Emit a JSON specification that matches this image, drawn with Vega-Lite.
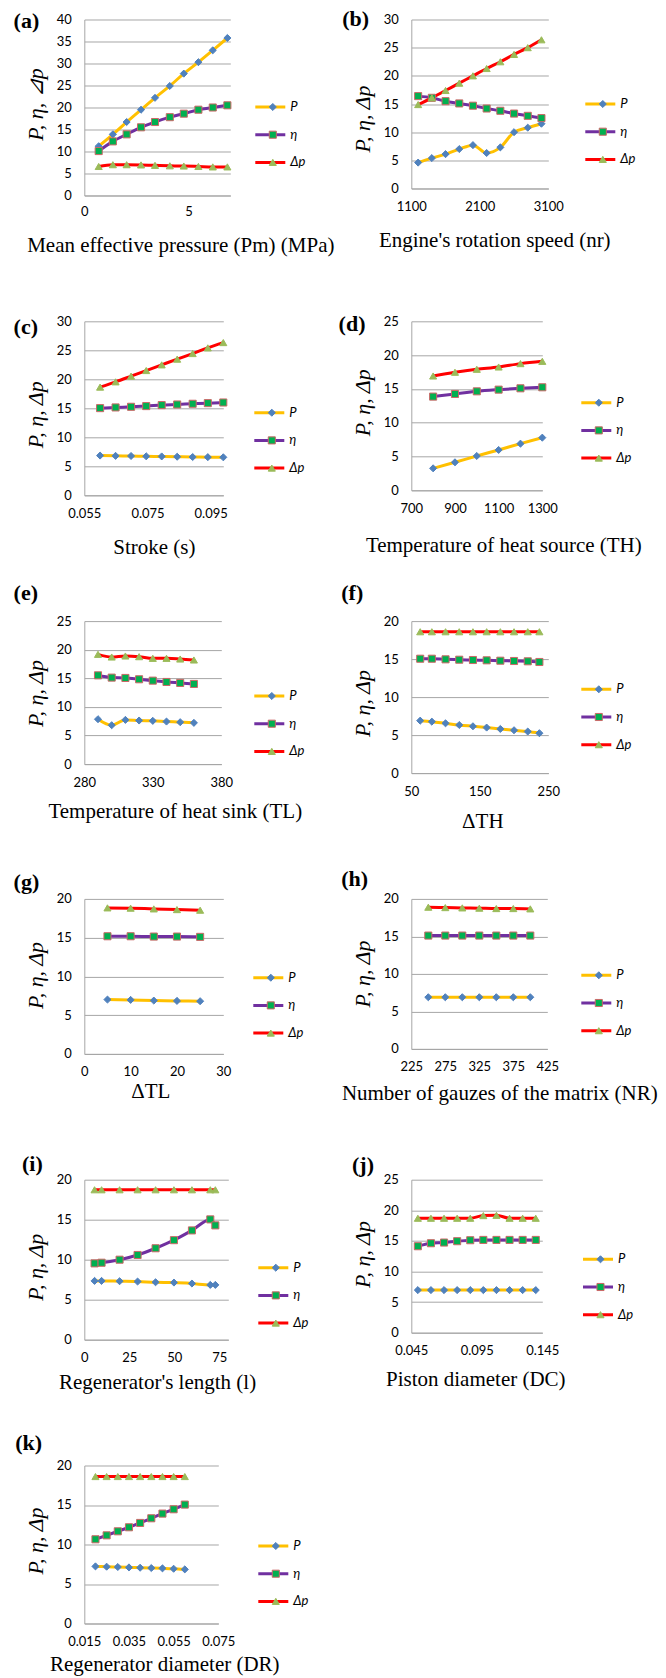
{
"$schema": "https://vega.github.io/schema/vega-lite/v6.json",
"background": "white",
"padding": {"left": 13.3, "top": 7.5, "right": 0, "bottom": 0},
"columns": 2,
"align": "each",
"bounds": "flush",
"spacing": {"row": 125.8, "column": 181},
"resolve": {"scale": {"color": "independent", "fill": "independent", "stroke": "independent", "shape": "independent", "x": "independent", "y": "independent"}, "legend": {"color": "independent", "fill": "independent", "stroke": "independent", "shape": "independent"}},
"config": {
  "view": {"stroke": null},
  "font": "Lato",
  "axis": {"labelFont": "Lato", "labelFontSize": 13, "labelColor": "#000000", "ticks": false, "tickSize": 0, "domainColor": "#A6A6A6", "domainWidth": 1, "gridColor": "#A6A6A6", "gridWidth": 1, "titleFont": "Liberation Serif", "titleFontWeight": "normal", "titleColor": "#000000", "labelFlush": false, "labelOverlap": false},
  "axisX": {"grid": false, "titleFontSize": 21, "labelPadding": 12},
  "axisY": {"grid": true, "titleFontSize": 22, "titleFontStyle": "italic", "labelPadding": 13, "titlePadding": 9},
  "legend": {"labelFont": "Lato", "labelFontSize": 13, "labelFontStyle": "italic", "labelColor": "#000000", "title": null, "padding": 0, "clipHeight": 14, "rowPadding": 13.7, "symbolOpacity": 1},
  "title": {"font": "Liberation Serif", "fontSize": 22, "fontWeight": "bold", "anchor": "start", "frame": "group", "color": "#000000"},
  "line": {"strokeWidth": 3, "interpolate": "monotone"},
  "point": {"size": 50, "filled": true, "opacity": 1, "strokeWidth": 1}
},
"concat": [
{
 "width": 146, "height": 176,
 "title": {"text": "(a)", "dx": -70.7, "offset": -19},
 "data": {"values": [
  {"x":0.69,"v":11.2,"s":"P"},{"x":1.37,"v":13.9,"s":"P"},{"x":2.03,"v":16.7,"s":"P"},{"x":2.72,"v":19.5,"s":"P"},{"x":3.39,"v":22.2,"s":"P"},{"x":4.1,"v":24.9,"s":"P"},{"x":4.77,"v":27.7,"s":"P"},{"x":5.47,"v":30.3,"s":"P"},{"x":6.16,"v":33.0,"s":"P"},{"x":6.86,"v":35.8,"s":"P"},
  {"x":0.69,"v":10.1,"s":"η"},{"x":1.37,"v":12.3,"s":"η"},{"x":2.03,"v":13.9,"s":"η"},{"x":2.72,"v":15.5,"s":"η"},{"x":3.39,"v":16.7,"s":"η"},{"x":4.1,"v":17.8,"s":"η"},{"x":4.77,"v":18.6,"s":"η"},{"x":5.47,"v":19.5,"s":"η"},{"x":6.16,"v":20.0,"s":"η"},{"x":6.86,"v":20.5,"s":"η"},
  {"x":0.69,"v":6.6,"s":"Δp"},{"x":1.37,"v":7.0,"s":"Δp"},{"x":2.03,"v":7.0,"s":"Δp"},{"x":2.72,"v":6.95,"s":"Δp"},{"x":3.39,"v":6.85,"s":"Δp"},{"x":4.1,"v":6.75,"s":"Δp"},{"x":4.77,"v":6.7,"s":"Δp"},{"x":5.47,"v":6.6,"s":"Δp"},{"x":6.16,"v":6.5,"s":"Δp"},{"x":6.86,"v":6.5,"s":"Δp"}
 ]},
 "encoding": {
  "x": {"field": "x", "type": "quantitative", "scale": {"domain": [0, 7], "nice": false, "zero": false}, "axis": {"values": [0, 5], "format": "d", "title": "Mean effective pressure (Pm) (MPa)", "titleX": 96, "titlePadding": 15.5, "labelPadding": 10}},
  "y": {"field": "v", "type": "quantitative", "scale": {"domain": [0, 40], "nice": false}, "axis": {"values": [0,5,10,15,20,25,30,35,40], "title": "P, η, ⊿p", "titleY": 84.5}}
 },
 "layer": [
  {"mark": "line", "encoding": {"color": {"field": "s", "type": "nominal", "sort": ["P","η","Δp"], "scale": {"range": ["#FFC000","#7030A0","#FF0000"]}, "legend": {"orient": "none", "legendX": 169.5, "legendY": 80.5, "symbolType": "stroke", "symbolSize": 900, "symbolStrokeWidth": 3, "labelExpr": "''"}}}},
  {"mark": "point", "encoding": {
    "shape": {"field": "s", "type": "nominal", "scale": {"domain": ["P","η","Δp"], "range": ["diamond","square","triangle-up"]}, "legend": {"orient": "none", "legendX": 182, "legendY": 80.5, "symbolSize": 50, "symbolStrokeWidth": 1, "labelOffset": 11}},
    "fill": {"field": "s", "type": "nominal", "scale": {"domain": ["P","η","Δp"], "range": ["#4F81BD","#00B050","#9BBB59"]}, "legend": {"orient": "none", "legendX": 182, "legendY": 80.5, "symbolSize": 50, "symbolStrokeWidth": 1, "labelOffset": 11}},
    "stroke": {"field": "s", "type": "nominal", "scale": {"domain": ["P","η","Δp"], "range": ["#4F81BD","#CC6666","#9BBB59"]}, "legend": {"orient": "none", "legendX": 182, "legendY": 80.5, "symbolSize": 50, "symbolStrokeWidth": 1, "labelOffset": 11}}
  }}
 ]
},
{
 "width": 137, "height": 169,
 "title": {"text": "(b)", "dx": -69, "offset": -17.5},
 "data": {"values": [
  {"x":1200,"v":4.6,"s":"P"},{"x":1400,"v":5.4,"s":"P"},{"x":1600,"v":6.1,"s":"P"},{"x":1800,"v":7.0,"s":"P"},{"x":2000,"v":7.7,"s":"P"},{"x":2200,"v":6.3,"s":"P"},{"x":2400,"v":7.3,"s":"P"},{"x":2600,"v":10.0,"s":"P"},{"x":2800,"v":10.8,"s":"P"},{"x":3000,"v":11.5,"s":"P"},
  {"x":1200,"v":16.4,"s":"η"},{"x":1400,"v":16.1,"s":"η"},{"x":1600,"v":15.5,"s":"η"},{"x":1800,"v":15.1,"s":"η"},{"x":2000,"v":14.7,"s":"η"},{"x":2200,"v":14.2,"s":"η"},{"x":2400,"v":13.8,"s":"η"},{"x":2600,"v":13.3,"s":"η"},{"x":2800,"v":12.9,"s":"η"},{"x":3000,"v":12.5,"s":"η"},
  {"x":1200,"v":14.9,"s":"Δp"},{"x":1400,"v":16.1,"s":"Δp"},{"x":1600,"v":17.4,"s":"Δp"},{"x":1800,"v":18.7,"s":"Δp"},{"x":2000,"v":20.0,"s":"Δp"},{"x":2200,"v":21.3,"s":"Δp"},{"x":2400,"v":22.5,"s":"Δp"},{"x":2600,"v":23.8,"s":"Δp"},{"x":2800,"v":25.0,"s":"Δp"},{"x":3000,"v":26.4,"s":"Δp"}
 ]},
 "encoding": {
  "x": {"field": "x", "type": "quantitative", "scale": {"domain": [1100, 3100], "nice": false, "zero": false}, "axis": {"values": [1100, 2100, 3100], "format": "d", "title": "Engine's rotation speed (nr)", "titleX": 83, "titlePadding": 15.5}},
  "y": {"field": "v", "type": "quantitative", "scale": {"domain": [0, 30], "nice": false}, "axis": {"values": [0,5,10,15,20,25,30], "title": "P, η, Δp", "titleY": 99}}
 },
 "layer": [
  {"mark": "line", "encoding": {"color": {"field": "s", "type": "nominal", "sort": ["P","η","Δp"], "scale": {"range": ["#FFC000","#7030A0","#FF0000"]}, "legend": {"orient": "none", "legendX": 172.5, "legendY": 77.5, "symbolType": "stroke", "symbolSize": 900, "symbolStrokeWidth": 3, "labelExpr": "''"}}}},
  {"mark": "point", "encoding": {
    "shape": {"field": "s", "type": "nominal", "scale": {"domain": ["P","η","Δp"], "range": ["diamond","square","triangle-up"]}, "legend": {"orient": "none", "legendX": 185, "legendY": 77.5, "symbolSize": 50, "symbolStrokeWidth": 1, "labelOffset": 11}},
    "fill": {"field": "s", "type": "nominal", "scale": {"domain": ["P","η","Δp"], "range": ["#4F81BD","#00B050","#9BBB59"]}, "legend": {"orient": "none", "legendX": 185, "legendY": 77.5, "symbolSize": 50, "symbolStrokeWidth": 1, "labelOffset": 11}},
    "stroke": {"field": "s", "type": "nominal", "scale": {"domain": ["P","η","Δp"], "range": ["#4F81BD","#CC6666","#9BBB59"]}, "legend": {"orient": "none", "legendX": 185, "legendY": 77.5, "symbolSize": 50, "symbolStrokeWidth": 1, "labelOffset": 11}}
  }}
 ]
},
{
 "width": 139, "height": 174,
 "title": {"text": "(c)", "dx": -70.7, "offset": -23.2},
 "data": {"values": [
  {"x":0.06,"v":6.85,"s":"P"},{"x":0.0649,"v":6.8,"s":"P"},{"x":0.0698,"v":6.78,"s":"P"},{"x":0.0746,"v":6.72,"s":"P"},{"x":0.0795,"v":6.7,"s":"P"},{"x":0.0844,"v":6.65,"s":"P"},{"x":0.0893,"v":6.6,"s":"P"},{"x":0.0941,"v":6.58,"s":"P"},{"x":0.099,"v":6.55,"s":"P"},
  {"x":0.06,"v":15.03,"s":"η"},{"x":0.0649,"v":15.15,"s":"η"},{"x":0.0698,"v":15.26,"s":"η"},{"x":0.0746,"v":15.38,"s":"η"},{"x":0.0795,"v":15.55,"s":"η"},{"x":0.0844,"v":15.66,"s":"η"},{"x":0.0893,"v":15.78,"s":"η"},{"x":0.0941,"v":15.89,"s":"η"},{"x":0.099,"v":16.0,"s":"η"},
  {"x":0.06,"v":18.65,"s":"Δp"},{"x":0.0649,"v":19.56,"s":"Δp"},{"x":0.0698,"v":20.54,"s":"Δp"},{"x":0.0746,"v":21.51,"s":"Δp"},{"x":0.0795,"v":22.49,"s":"Δp"},{"x":0.0844,"v":23.47,"s":"Δp"},{"x":0.0893,"v":24.44,"s":"Δp"},{"x":0.0941,"v":25.42,"s":"Δp"},{"x":0.099,"v":26.33,"s":"Δp"}
 ]},
 "encoding": {
  "x": {"field": "x", "type": "quantitative", "scale": {"domain": [0.055, 0.099], "nice": false, "zero": false}, "axis": {"values": [0.055, 0.075, 0.095], "format": ".3f", "title": "Stroke (s)", "titleX": 69.5, "titlePadding": 16.5}},
  "y": {"field": "v", "type": "quantitative", "scale": {"domain": [0, 30], "nice": false}, "axis": {"values": [0,5,10,15,20,25,30], "title": "P, η, Δp", "titleY": 93}}
 },
 "layer": [
  {"mark": "line", "encoding": {"color": {"field": "s", "type": "nominal", "sort": ["P","η","Δp"], "scale": {"range": ["#FFC000","#7030A0","#FF0000"]}, "legend": {"orient": "none", "legendX": 168.5, "legendY": 84.4, "symbolType": "stroke", "symbolSize": 900, "symbolStrokeWidth": 3, "labelExpr": "''"}}}},
  {"mark": "point", "encoding": {
    "shape": {"field": "s", "type": "nominal", "scale": {"domain": ["P","η","Δp"], "range": ["diamond","square","triangle-up"]}, "legend": {"orient": "none", "legendX": 181, "legendY": 84.4, "symbolSize": 50, "symbolStrokeWidth": 1, "labelOffset": 11}},
    "fill": {"field": "s", "type": "nominal", "scale": {"domain": ["P","η","Δp"], "range": ["#4F81BD","#00B050","#9BBB59"]}, "legend": {"orient": "none", "legendX": 181, "legendY": 84.4, "symbolSize": 50, "symbolStrokeWidth": 1, "labelOffset": 11}},
    "stroke": {"field": "s", "type": "nominal", "scale": {"domain": ["P","η","Δp"], "range": ["#4F81BD","#CC6666","#9BBB59"]}, "legend": {"orient": "none", "legendX": 181, "legendY": 84.4, "symbolSize": 50, "symbolStrokeWidth": 1, "labelOffset": 11}}
  }}
 ]
},
{
 "width": 131, "height": 169,
 "title": {"text": "(d)", "dx": -72.7, "offset": -20.2},
 "data": {"values": [
  {"x":800,"v":3.25,"s":"P"},{"x":900,"v":4.14,"s":"P"},{"x":1000,"v":5.08,"s":"P"},{"x":1100,"v":5.97,"s":"P"},{"x":1200,"v":6.9,"s":"P"},{"x":1300,"v":7.79,"s":"P"},
  {"x":800,"v":13.86,"s":"η"},{"x":900,"v":14.25,"s":"η"},{"x":1000,"v":14.64,"s":"η"},{"x":1100,"v":14.89,"s":"η"},{"x":1200,"v":15.09,"s":"η"},{"x":1300,"v":15.24,"s":"η"},
  {"x":800,"v":16.91,"s":"Δp"},{"x":900,"v":17.46,"s":"Δp"},{"x":1000,"v":17.9,"s":"Δp"},{"x":1100,"v":18.24,"s":"Δp"},{"x":1200,"v":18.74,"s":"Δp"},{"x":1300,"v":19.08,"s":"Δp"}
 ]},
 "encoding": {
  "x": {"field": "x", "type": "quantitative", "scale": {"domain": [700, 1300], "nice": false, "zero": false}, "axis": {"values": [700, 900, 1100, 1300], "format": "d", "title": "Temperature of heat source (TH)", "titleX": 92, "titlePadding": 19.5}},
  "y": {"field": "v", "type": "quantitative", "scale": {"domain": [0, 25], "nice": false}, "axis": {"values": [0,5,10,15,20,25], "title": "P, η, Δp", "titleY": 81}}
 },
 "layer": [
  {"mark": "line", "encoding": {"color": {"field": "s", "type": "nominal", "sort": ["P","η","Δp"], "scale": {"range": ["#FFC000","#7030A0","#FF0000"]}, "legend": {"orient": "none", "legendX": 168.5, "legendY": 74.4, "symbolType": "stroke", "symbolSize": 900, "symbolStrokeWidth": 3, "labelExpr": "''"}}}},
  {"mark": "point", "encoding": {
    "shape": {"field": "s", "type": "nominal", "scale": {"domain": ["P","η","Δp"], "range": ["diamond","square","triangle-up"]}, "legend": {"orient": "none", "legendX": 181, "legendY": 74.4, "symbolSize": 50, "symbolStrokeWidth": 1, "labelOffset": 11}},
    "fill": {"field": "s", "type": "nominal", "scale": {"domain": ["P","η","Δp"], "range": ["#4F81BD","#00B050","#9BBB59"]}, "legend": {"orient": "none", "legendX": 181, "legendY": 74.4, "symbolSize": 50, "symbolStrokeWidth": 1, "labelOffset": 11}},
    "stroke": {"field": "s", "type": "nominal", "scale": {"domain": ["P","η","Δp"], "range": ["#4F81BD","#CC6666","#9BBB59"]}, "legend": {"orient": "none", "legendX": 181, "legendY": 74.4, "symbolSize": 50, "symbolStrokeWidth": 1, "labelOffset": 11}}
  }}
 ]
},
{
 "width": 137, "height": 143,
 "title": {"text": "(e)", "dx": -70.7, "offset": 10.6},
 "data": {"values": [
  {"x":290,"v":7.85,"s":"P"},{"x":300,"v":6.8,"s":"P"},{"x":310,"v":7.73,"s":"P"},{"x":320,"v":7.62,"s":"P"},{"x":330,"v":7.56,"s":"P"},{"x":340,"v":7.44,"s":"P"},{"x":350,"v":7.33,"s":"P"},{"x":360,"v":7.21,"s":"P"},
  {"x":290,"v":15.52,"s":"η"},{"x":300,"v":15.12,"s":"η"},{"x":310,"v":15.06,"s":"η"},{"x":320,"v":14.83,"s":"η"},{"x":330,"v":14.59,"s":"η"},{"x":340,"v":14.36,"s":"η"},{"x":350,"v":14.19,"s":"η"},{"x":360,"v":14.01,"s":"η"},
  {"x":290,"v":19.19,"s":"Δp"},{"x":300,"v":18.72,"s":"Δp"},{"x":310,"v":18.9,"s":"Δp"},{"x":320,"v":18.78,"s":"Δp"},{"x":330,"v":18.49,"s":"Δp"},{"x":340,"v":18.49,"s":"Δp"},{"x":350,"v":18.37,"s":"Δp"},{"x":360,"v":18.2,"s":"Δp"}
 ]},
 "encoding": {
  "x": {"field": "x", "type": "quantitative", "scale": {"domain": [280, 380], "nice": false, "zero": false}, "axis": {"values": [280, 330, 380], "format": "d", "title": "Temperature of heat sink (TL)", "titleX": 90.5, "titlePadding": 11.5}},
  "y": {"field": "v", "type": "quantitative", "scale": {"domain": [0, 25], "nice": false}, "axis": {"values": [0,5,10,15,20,25], "title": "P, η, Δp", "titleY": 72}}
 },
 "layer": [
  {"mark": "line", "encoding": {"color": {"field": "s", "type": "nominal", "sort": ["P","η","Δp"], "scale": {"range": ["#FFC000","#7030A0","#FF0000"]}, "legend": {"orient": "none", "legendX": 168.5, "legendY": 67.9, "symbolType": "stroke", "symbolSize": 900, "symbolStrokeWidth": 3, "labelExpr": "''"}}}},
  {"mark": "point", "encoding": {
    "shape": {"field": "s", "type": "nominal", "scale": {"domain": ["P","η","Δp"], "range": ["diamond","square","triangle-up"]}, "legend": {"orient": "none", "legendX": 181, "legendY": 67.9, "symbolSize": 50, "symbolStrokeWidth": 1, "labelOffset": 11}},
    "fill": {"field": "s", "type": "nominal", "scale": {"domain": ["P","η","Δp"], "range": ["#4F81BD","#00B050","#9BBB59"]}, "legend": {"orient": "none", "legendX": 181, "legendY": 67.9, "symbolSize": 50, "symbolStrokeWidth": 1, "labelOffset": 11}},
    "stroke": {"field": "s", "type": "nominal", "scale": {"domain": ["P","η","Δp"], "range": ["#4F81BD","#CC6666","#9BBB59"]}, "legend": {"orient": "none", "legendX": 181, "legendY": 67.9, "symbolSize": 50, "symbolStrokeWidth": 1, "labelOffset": 11}}
  }}
 ]
},
{
 "width": 137, "height": 152,
 "title": {"text": "(f)", "dx": -70, "offset": 10.6},
 "data": {"values": [
  {"x":63,"v":6.9,"s":"P"},{"x":80,"v":6.77,"s":"P"},{"x":100,"v":6.55,"s":"P"},{"x":120,"v":6.33,"s":"P"},{"x":140,"v":6.16,"s":"P"},{"x":160,"v":5.99,"s":"P"},{"x":180,"v":5.81,"s":"P"},{"x":200,"v":5.64,"s":"P"},{"x":220,"v":5.47,"s":"P"},{"x":237,"v":5.25,"s":"P"},
  {"x":63,"v":15.05,"s":"η"},{"x":80,"v":15.05,"s":"η"},{"x":100,"v":14.97,"s":"η"},{"x":120,"v":14.92,"s":"η"},{"x":140,"v":14.88,"s":"η"},{"x":160,"v":14.84,"s":"η"},{"x":180,"v":14.79,"s":"η"},{"x":200,"v":14.75,"s":"η"},{"x":220,"v":14.71,"s":"η"},{"x":237,"v":14.62,"s":"η"},
  {"x":63,"v":18.6,"s":"Δp"},{"x":80,"v":18.6,"s":"Δp"},{"x":100,"v":18.6,"s":"Δp"},{"x":120,"v":18.6,"s":"Δp"},{"x":140,"v":18.6,"s":"Δp"},{"x":160,"v":18.6,"s":"Δp"},{"x":180,"v":18.6,"s":"Δp"},{"x":200,"v":18.6,"s":"Δp"},{"x":220,"v":18.6,"s":"Δp"},{"x":237,"v":18.6,"s":"Δp"}
 ]},
 "encoding": {
  "x": {"field": "x", "type": "quantitative", "scale": {"domain": [50, 250], "nice": false, "zero": false}, "axis": {"values": [50, 150, 250], "format": "d", "title": "ΔTH", "titleX": 71, "titlePadding": 12.5}},
  "y": {"field": "v", "type": "quantitative", "scale": {"domain": [0, 20], "nice": false}, "axis": {"values": [0,5,10,15,20], "title": "P, η, Δp", "titleY": 82}}
 },
 "layer": [
  {"mark": "line", "encoding": {"color": {"field": "s", "type": "nominal", "sort": ["P","η","Δp"], "scale": {"range": ["#FFC000","#7030A0","#FF0000"]}, "legend": {"orient": "none", "legendX": 168.5, "legendY": 61.2, "symbolType": "stroke", "symbolSize": 900, "symbolStrokeWidth": 3, "labelExpr": "''"}}}},
  {"mark": "point", "encoding": {
    "shape": {"field": "s", "type": "nominal", "scale": {"domain": ["P","η","Δp"], "range": ["diamond","square","triangle-up"]}, "legend": {"orient": "none", "legendX": 181, "legendY": 61.2, "symbolSize": 50, "symbolStrokeWidth": 1, "labelOffset": 11}},
    "fill": {"field": "s", "type": "nominal", "scale": {"domain": ["P","η","Δp"], "range": ["#4F81BD","#00B050","#9BBB59"]}, "legend": {"orient": "none", "legendX": 181, "legendY": 61.2, "symbolSize": 50, "symbolStrokeWidth": 1, "labelOffset": 11}},
    "stroke": {"field": "s", "type": "nominal", "scale": {"domain": ["P","η","Δp"], "range": ["#4F81BD","#CC6666","#9BBB59"]}, "legend": {"orient": "none", "legendX": 181, "legendY": 61.2, "symbolSize": 50, "symbolStrokeWidth": 1, "labelOffset": 11}}
  }}
 ]
},
{
 "width": 139, "height": 155,
 "title": {"text": "(g)", "dx": -70.7, "offset": -1.3},
 "data": {"values": [
  {"x":5,"v":7.01,"s":"P"},{"x":10,"v":6.97,"s":"P"},{"x":15,"v":6.88,"s":"P"},{"x":20,"v":6.84,"s":"P"},{"x":25,"v":6.8,"s":"P"},
  {"x":5,"v":15.18,"s":"η"},{"x":10,"v":15.18,"s":"η"},{"x":15,"v":15.14,"s":"η"},{"x":20,"v":15.14,"s":"η"},{"x":25,"v":15.1,"s":"η"},
  {"x":5,"v":18.84,"s":"Δp"},{"x":10,"v":18.8,"s":"Δp"},{"x":15,"v":18.71,"s":"Δp"},{"x":20,"v":18.62,"s":"Δp"},{"x":25,"v":18.54,"s":"Δp"}
 ]},
 "encoding": {
  "x": {"field": "x", "type": "quantitative", "scale": {"domain": [0, 30], "nice": false, "zero": false}, "axis": {"values": [0, 10, 20, 30], "format": "d", "title": "ΔTL", "titleX": 66, "titlePadding": 1.5}},
  "y": {"field": "v", "type": "quantitative", "scale": {"domain": [0, 20], "nice": false}, "axis": {"values": [0,5,10,15,20], "title": "P, η, Δp", "titleY": 76}}
 },
 "layer": [
  {"mark": "line", "encoding": {"color": {"field": "s", "type": "nominal", "sort": ["P","η","Δp"], "scale": {"range": ["#FFC000","#7030A0","#FF0000"]}, "legend": {"orient": "none", "legendX": 167.5, "legendY": 71.8, "symbolType": "stroke", "symbolSize": 900, "symbolStrokeWidth": 3, "labelExpr": "''"}}}},
  {"mark": "point", "encoding": {
    "shape": {"field": "s", "type": "nominal", "scale": {"domain": ["P","η","Δp"], "range": ["diamond","square","triangle-up"]}, "legend": {"orient": "none", "legendX": 180, "legendY": 71.8, "symbolSize": 50, "symbolStrokeWidth": 1, "labelOffset": 11}},
    "fill": {"field": "s", "type": "nominal", "scale": {"domain": ["P","η","Δp"], "range": ["#4F81BD","#00B050","#9BBB59"]}, "legend": {"orient": "none", "legendX": 180, "legendY": 71.8, "symbolSize": 50, "symbolStrokeWidth": 1, "labelOffset": 11}},
    "stroke": {"field": "s", "type": "nominal", "scale": {"domain": ["P","η","Δp"], "range": ["#4F81BD","#CC6666","#9BBB59"]}, "legend": {"orient": "none", "legendX": 180, "legendY": 71.8, "symbolSize": 50, "symbolStrokeWidth": 1, "labelOffset": 11}}
  }}
 ]
},
{
 "width": 136, "height": 150,
 "title": {"text": "(h)", "dx": -70, "offset": 1.4},
 "data": {"values": [
  {"x":250,"v":6.89,"s":"P"},{"x":275,"v":6.89,"s":"P"},{"x":300,"v":6.89,"s":"P"},{"x":325,"v":6.89,"s":"P"},{"x":350,"v":6.89,"s":"P"},{"x":375,"v":6.89,"s":"P"},{"x":400,"v":6.89,"s":"P"},
  {"x":250,"v":15.11,"s":"η"},{"x":275,"v":15.11,"s":"η"},{"x":300,"v":15.11,"s":"η"},{"x":325,"v":15.11,"s":"η"},{"x":350,"v":15.11,"s":"η"},{"x":375,"v":15.11,"s":"η"},{"x":400,"v":15.11,"s":"η"},
  {"x":250,"v":18.89,"s":"Δp"},{"x":275,"v":18.84,"s":"Δp"},{"x":300,"v":18.8,"s":"Δp"},{"x":325,"v":18.76,"s":"Δp"},{"x":350,"v":18.71,"s":"Δp"},{"x":375,"v":18.71,"s":"Δp"},{"x":400,"v":18.67,"s":"Δp"}
 ]},
 "encoding": {
  "x": {"field": "x", "type": "quantitative", "scale": {"domain": [225, 425], "nice": false, "zero": false}, "axis": {"values": [225, 275, 325, 375, 425], "format": "d", "title": "Number of gauzes of the matrix (NR)", "titleX": 88, "titlePadding": 8.5}},
  "y": {"field": "v", "type": "quantitative", "scale": {"domain": [0, 20], "nice": false}, "axis": {"values": [0,5,10,15,20], "title": "P, η, Δp", "titleY": 74.6}}
 },
 "layer": [
  {"mark": "line", "encoding": {"color": {"field": "s", "type": "nominal", "sort": ["P","η","Δp"], "scale": {"range": ["#FFC000","#7030A0","#FF0000"]}, "legend": {"orient": "none", "legendX": 168.5, "legendY": 69.4, "symbolType": "stroke", "symbolSize": 900, "symbolStrokeWidth": 3, "labelExpr": "''"}}}},
  {"mark": "point", "encoding": {
    "shape": {"field": "s", "type": "nominal", "scale": {"domain": ["P","η","Δp"], "range": ["diamond","square","triangle-up"]}, "legend": {"orient": "none", "legendX": 181, "legendY": 69.4, "symbolSize": 50, "symbolStrokeWidth": 1, "labelOffset": 11}},
    "fill": {"field": "s", "type": "nominal", "scale": {"domain": ["P","η","Δp"], "range": ["#4F81BD","#00B050","#9BBB59"]}, "legend": {"orient": "none", "legendX": 181, "legendY": 69.4, "symbolSize": 50, "symbolStrokeWidth": 1, "labelOffset": 11}},
    "stroke": {"field": "s", "type": "nominal", "scale": {"domain": ["P","η","Δp"], "range": ["#4F81BD","#CC6666","#9BBB59"]}, "legend": {"orient": "none", "legendX": 181, "legendY": 69.4, "symbolSize": 50, "symbolStrokeWidth": 1, "labelOffset": 11}}
  }}
 ]
},
{
 "width": 144, "height": 160,
 "title": {"text": "(i)", "dx": -62.3, "offset": -2.8},
 "data": {"values": [
  {"x":5.7,"v":7.35,"s":"P"},{"x":9.6,"v":7.35,"s":"P"},{"x":19.6,"v":7.31,"s":"P"},{"x":29.6,"v":7.27,"s":"P"},{"x":39.6,"v":7.18,"s":"P"},{"x":49.8,"v":7.14,"s":"P"},{"x":59.8,"v":7.02,"s":"P"},{"x":70,"v":6.85,"s":"P"},{"x":72.8,"v":6.85,"s":"P"},
  {"x":5.7,"v":9.54,"s":"η"},{"x":9.6,"v":9.62,"s":"η"},{"x":19.6,"v":10.0,"s":"η"},{"x":29.6,"v":10.59,"s":"η"},{"x":39.6,"v":11.43,"s":"η"},{"x":49.8,"v":12.44,"s":"η"},{"x":59.8,"v":13.66,"s":"η"},{"x":70,"v":15.04,"s":"η"},{"x":72.8,"v":14.29,"s":"η"},
  {"x":5.7,"v":18.74,"s":"Δp"},{"x":9.6,"v":18.74,"s":"Δp"},{"x":19.6,"v":18.74,"s":"Δp"},{"x":29.6,"v":18.74,"s":"Δp"},{"x":39.6,"v":18.74,"s":"Δp"},{"x":49.8,"v":18.74,"s":"Δp"},{"x":59.8,"v":18.74,"s":"Δp"},{"x":70,"v":18.74,"s":"Δp"},{"x":72.8,"v":18.74,"s":"Δp"}
 ]},
 "encoding": {
  "x": {"field": "x", "type": "quantitative", "scale": {"domain": [0, 80], "nice": false, "zero": false}, "axis": {"values": [0, 25, 50, 75], "format": "d", "title": "Regenerator's length (l)", "titleX": 72.7, "titlePadding": 6.5}},
  "y": {"field": "v", "type": "quantitative", "scale": {"domain": [0, 20], "nice": false}, "axis": {"values": [0,5,10,15,20], "title": "P, η, Δp", "titleY": 87}}
 },
 "layer": [
  {"mark": "line", "encoding": {"color": {"field": "s", "type": "nominal", "sort": ["P","η","Δp"], "scale": {"range": ["#FFC000","#7030A0","#FF0000"]}, "legend": {"orient": "none", "legendX": 172.5, "legendY": 81, "symbolType": "stroke", "symbolSize": 900, "symbolStrokeWidth": 3, "labelExpr": "''"}}}},
  {"mark": "point", "encoding": {
    "shape": {"field": "s", "type": "nominal", "scale": {"domain": ["P","η","Δp"], "range": ["diamond","square","triangle-up"]}, "legend": {"orient": "none", "legendX": 185, "legendY": 81, "symbolSize": 50, "symbolStrokeWidth": 1, "labelOffset": 11}},
    "fill": {"field": "s", "type": "nominal", "scale": {"domain": ["P","η","Δp"], "range": ["#4F81BD","#00B050","#9BBB59"]}, "legend": {"orient": "none", "legendX": 185, "legendY": 81, "symbolSize": 50, "symbolStrokeWidth": 1, "labelOffset": 11}},
    "stroke": {"field": "s", "type": "nominal", "scale": {"domain": ["P","η","Δp"], "range": ["#4F81BD","#CC6666","#9BBB59"]}, "legend": {"orient": "none", "legendX": 185, "legendY": 81, "symbolSize": 50, "symbolStrokeWidth": 1, "labelOffset": 11}}
  }}
 ]
},
{
 "width": 131, "height": 153,
 "title": {"text": "(j)", "dx": -59.3, "offset": -3.8},
 "data": {"values": [
  {"x":0.05,"v":6.96,"s":"P"},{"x":0.06,"v":6.96,"s":"P"},{"x":0.07,"v":6.96,"s":"P"},{"x":0.08,"v":6.96,"s":"P"},{"x":0.09,"v":6.96,"s":"P"},{"x":0.1,"v":6.96,"s":"P"},{"x":0.11,"v":6.96,"s":"P"},{"x":0.12,"v":6.96,"s":"P"},{"x":0.13,"v":6.96,"s":"P"},{"x":0.14,"v":6.96,"s":"P"},
  {"x":0.05,"v":14.13,"s":"η"},{"x":0.06,"v":14.62,"s":"η"},{"x":0.07,"v":14.73,"s":"η"},{"x":0.08,"v":14.95,"s":"η"},{"x":0.09,"v":15.11,"s":"η"},{"x":0.1,"v":15.16,"s":"η"},{"x":0.11,"v":15.16,"s":"η"},{"x":0.12,"v":15.16,"s":"η"},{"x":0.13,"v":15.16,"s":"η"},{"x":0.14,"v":15.16,"s":"η"},
  {"x":0.05,"v":18.7,"s":"Δp"},{"x":0.06,"v":18.7,"s":"Δp"},{"x":0.07,"v":18.7,"s":"Δp"},{"x":0.08,"v":18.7,"s":"Δp"},{"x":0.09,"v":18.7,"s":"Δp"},{"x":0.1,"v":19.13,"s":"Δp"},{"x":0.11,"v":19.18,"s":"Δp"},{"x":0.12,"v":18.7,"s":"Δp"},{"x":0.13,"v":18.7,"s":"Δp"},{"x":0.14,"v":18.7,"s":"Δp"}
 ]},
 "encoding": {
  "x": {"field": "x", "type": "quantitative", "scale": {"domain": [0.045, 0.145], "nice": false, "zero": false}, "axis": {"values": [0.045, 0.095, 0.145], "format": ".3f", "title": "Piston diameter (DC)", "titleX": 64, "titlePadding": 10.5}},
  "y": {"field": "v", "type": "quantitative", "scale": {"domain": [0, 25], "nice": false}, "axis": {"values": [0,5,10,15,20,25], "title": "P, η, Δp", "titleY": 74.3}}
 },
 "layer": [
  {"mark": "line", "encoding": {"color": {"field": "s", "type": "nominal", "sort": ["P","η","Δp"], "scale": {"range": ["#FFC000","#7030A0","#FF0000"]}, "legend": {"orient": "none", "legendX": 170.2, "legendY": 72.6, "symbolType": "stroke", "symbolSize": 900, "symbolStrokeWidth": 3, "labelExpr": "''"}}}},
  {"mark": "point", "encoding": {
    "shape": {"field": "s", "type": "nominal", "scale": {"domain": ["P","η","Δp"], "range": ["diamond","square","triangle-up"]}, "legend": {"orient": "none", "legendX": 182.7, "legendY": 72.6, "symbolSize": 50, "symbolStrokeWidth": 1, "labelOffset": 11}},
    "fill": {"field": "s", "type": "nominal", "scale": {"domain": ["P","η","Δp"], "range": ["#4F81BD","#00B050","#9BBB59"]}, "legend": {"orient": "none", "legendX": 182.7, "legendY": 72.6, "symbolSize": 50, "symbolStrokeWidth": 1, "labelOffset": 11}},
    "stroke": {"field": "s", "type": "nominal", "scale": {"domain": ["P","η","Δp"], "range": ["#4F81BD","#CC6666","#9BBB59"]}, "legend": {"orient": "none", "legendX": 182.7, "legendY": 72.6, "symbolSize": 50, "symbolStrokeWidth": 1, "labelOffset": 11}}
  }}
 ]
},
{
 "width": 134, "height": 158,
 "title": {"text": "(k)", "dx": -69, "offset": 4},
 "data": {"values": [
  {"x":0.02,"v":7.23,"s":"P"},{"x":0.025,"v":7.19,"s":"P"},{"x":0.03,"v":7.15,"s":"P"},{"x":0.035,"v":7.1,"s":"P"},{"x":0.04,"v":7.06,"s":"P"},{"x":0.045,"v":7.02,"s":"P"},{"x":0.05,"v":6.98,"s":"P"},{"x":0.055,"v":6.93,"s":"P"},{"x":0.06,"v":6.85,"s":"P"},
  {"x":0.02,"v":10.66,"s":"η"},{"x":0.025,"v":11.16,"s":"η"},{"x":0.03,"v":11.67,"s":"η"},{"x":0.035,"v":12.18,"s":"η"},{"x":0.04,"v":12.73,"s":"η"},{"x":0.045,"v":13.32,"s":"η"},{"x":0.05,"v":13.91,"s":"η"},{"x":0.055,"v":14.46,"s":"η"},{"x":0.06,"v":15.05,"s":"η"},
  {"x":0.02,"v":18.6,"s":"Δp"},{"x":0.025,"v":18.6,"s":"Δp"},{"x":0.03,"v":18.6,"s":"Δp"},{"x":0.035,"v":18.6,"s":"Δp"},{"x":0.04,"v":18.6,"s":"Δp"},{"x":0.045,"v":18.6,"s":"Δp"},{"x":0.05,"v":18.6,"s":"Δp"},{"x":0.055,"v":18.6,"s":"Δp"},{"x":0.06,"v":18.6,"s":"Δp"}
 ]},
 "encoding": {
  "x": {"field": "x", "type": "quantitative", "scale": {"domain": [0.015, 0.075], "nice": false, "zero": false}, "axis": {"values": [0.015, 0.035, 0.055, 0.075], "format": ".3f", "title": "Regenerator diameter (DR)", "titleX": 80, "titlePadding": 5.5}},
  "y": {"field": "v", "type": "quantitative", "scale": {"domain": [0, 20], "nice": false}, "axis": {"values": [0,5,10,15,20], "title": "P, η, Δp", "titleY": 75}}
 },
 "layer": [
  {"mark": "line", "encoding": {"color": {"field": "s", "type": "nominal", "sort": ["P","η","Δp"], "scale": {"range": ["#FFC000","#7030A0","#FF0000"]}, "legend": {"orient": "none", "legendX": 172.5, "legendY": 73.5, "symbolType": "stroke", "symbolSize": 900, "symbolStrokeWidth": 3, "labelExpr": "''"}}}},
  {"mark": "point", "encoding": {
    "shape": {"field": "s", "type": "nominal", "scale": {"domain": ["P","η","Δp"], "range": ["diamond","square","triangle-up"]}, "legend": {"orient": "none", "legendX": 185, "legendY": 73.5, "symbolSize": 50, "symbolStrokeWidth": 1, "labelOffset": 11}},
    "fill": {"field": "s", "type": "nominal", "scale": {"domain": ["P","η","Δp"], "range": ["#4F81BD","#00B050","#9BBB59"]}, "legend": {"orient": "none", "legendX": 185, "legendY": 73.5, "symbolSize": 50, "symbolStrokeWidth": 1, "labelOffset": 11}},
    "stroke": {"field": "s", "type": "nominal", "scale": {"domain": ["P","η","Δp"], "range": ["#4F81BD","#CC6666","#9BBB59"]}, "legend": {"orient": "none", "legendX": 185, "legendY": 73.5, "symbolSize": 50, "symbolStrokeWidth": 1, "labelOffset": 11}}
  }}
 ]
}
]
}
